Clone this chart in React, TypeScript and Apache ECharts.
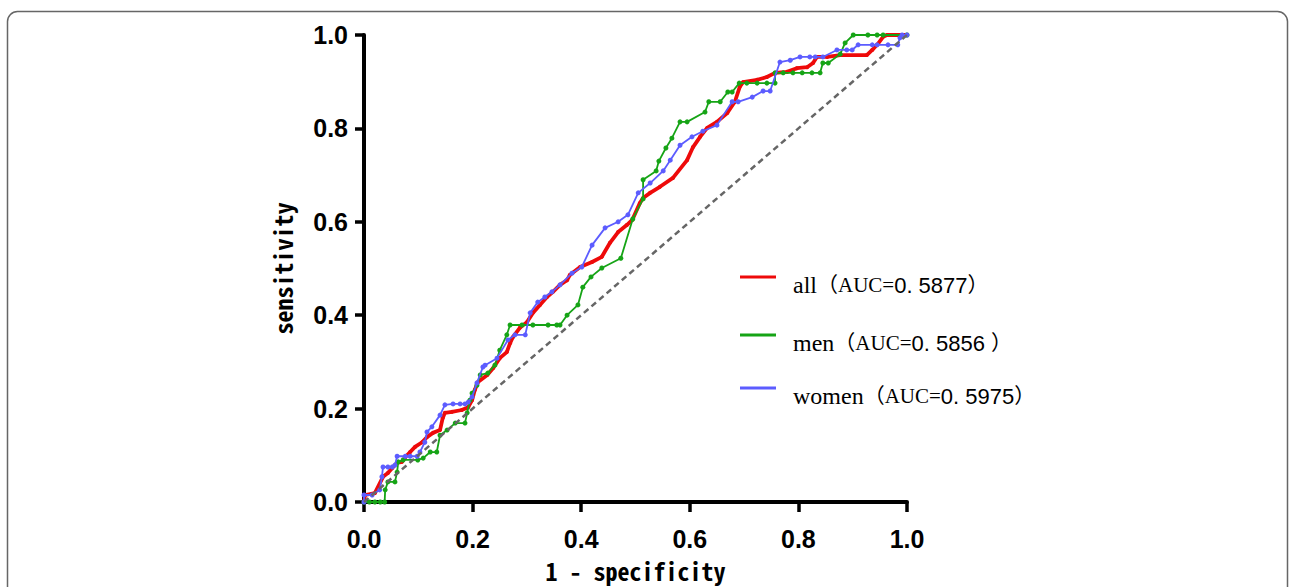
import React, { useEffect, useRef } from "react";
import * as echarts from "echarts";

const seriesNames = ["all", "men", "women"];
const aucLabels = ["0. 5877", "0. 5856 ", "0. 5975"];
const seriesColors = ["#ee0a0a", "#16a416", "#5c5cff"];
const tickValues = [0, 0.2, 0.4, 0.6, 0.8, 1.0];

const allCurve = [
  [0, 0], [0.002, 0.015], [0.02, 0.019], [0.035, 0.054], [0.044, 0.062], [0.052, 0.073],
  [0.061, 0.084], [0.07, 0.086], [0.076, 0.096], [0.085, 0.107], [0.094, 0.118], [0.107, 0.128],
  [0.116, 0.139], [0.127, 0.148], [0.14, 0.154], [0.145, 0.18], [0.149, 0.191], [0.162, 0.193],
  [0.18, 0.197], [0.192, 0.203], [0.199, 0.218], [0.204, 0.24], [0.21, 0.257], [0.227, 0.272],
  [0.238, 0.287], [0.25, 0.308], [0.263, 0.321], [0.269, 0.34], [0.274, 0.353], [0.287, 0.373],
  [0.3, 0.385], [0.311, 0.405], [0.324, 0.422], [0.337, 0.439], [0.348, 0.45], [0.361, 0.465],
  [0.374, 0.475], [0.379, 0.486], [0.398, 0.503], [0.42, 0.514], [0.438, 0.525], [0.453, 0.555],
  [0.468, 0.578], [0.484, 0.593], [0.494, 0.604], [0.508, 0.64], [0.514, 0.651], [0.527, 0.662],
  [0.545, 0.675], [0.569, 0.694], [0.595, 0.732], [0.606, 0.76], [0.619, 0.782], [0.632, 0.801],
  [0.65, 0.814], [0.669, 0.833], [0.683, 0.857], [0.692, 0.889], [0.698, 0.899], [0.724, 0.904],
  [0.742, 0.91], [0.757, 0.919], [0.779, 0.921], [0.797, 0.929], [0.816, 0.931], [0.827, 0.94],
  [0.834, 0.953], [0.853, 0.953], [0.877, 0.957], [0.926, 0.957], [0.936, 0.968], [0.945, 0.979],
  [0.956, 0.996], [0.963, 1.0], [1.0, 1.0],
];

const menCurve = [
  [0, 0], [0.01, 0], [0.02, 0], [0.03, 0], [0.038, 0], [0.039, 0.026], [0.044, 0.043],
  [0.057, 0.043], [0.061, 0.064], [0.063, 0.086], [0.072, 0.09], [0.099, 0.09], [0.109, 0.094],
  [0.122, 0.107], [0.134, 0.107], [0.14, 0.143], [0.153, 0.154], [0.168, 0.169], [0.186, 0.169],
  [0.19, 0.191], [0.195, 0.218], [0.199, 0.233], [0.208, 0.25], [0.214, 0.272], [0.228, 0.276],
  [0.241, 0.293], [0.25, 0.325], [0.263, 0.358], [0.269, 0.379], [0.291, 0.379], [0.311, 0.379],
  [0.339, 0.379], [0.355, 0.379], [0.361, 0.379], [0.374, 0.4], [0.394, 0.422], [0.403, 0.46],
  [0.418, 0.482], [0.438, 0.501], [0.473, 0.522], [0.495, 0.606], [0.514, 0.649], [0.514, 0.69],
  [0.538, 0.709], [0.543, 0.73], [0.556, 0.758], [0.567, 0.779], [0.582, 0.814], [0.595, 0.814],
  [0.628, 0.835], [0.635, 0.857], [0.656, 0.857], [0.67, 0.878], [0.678, 0.878], [0.691, 0.897],
  [0.705, 0.897], [0.724, 0.897], [0.742, 0.897], [0.757, 0.897], [0.757, 0.919], [0.772, 0.919],
  [0.79, 0.919], [0.807, 0.919], [0.825, 0.919], [0.84, 0.919], [0.845, 0.94], [0.855, 0.94],
  [0.877, 0.959], [0.886, 0.983], [0.901, 1], [0.928, 1], [0.945, 1], [0.956, 1], [1, 1],
];

const womenCurve = [
  [0, 0], [0, 0.015], [0.015, 0.015], [0.029, 0.026], [0.033, 0.054], [0.035, 0.075],
  [0.044, 0.075], [0.052, 0.075], [0.057, 0.079], [0.061, 0.098], [0.076, 0.098], [0.085, 0.098],
  [0.098, 0.098], [0.103, 0.107], [0.112, 0.128], [0.116, 0.15], [0.125, 0.161], [0.14, 0.186],
  [0.149, 0.208], [0.164, 0.21], [0.177, 0.21], [0.186, 0.21], [0.192, 0.214], [0.199, 0.225],
  [0.208, 0.255], [0.219, 0.289], [0.223, 0.293], [0.245, 0.308], [0.265, 0.347], [0.278, 0.358],
  [0.297, 0.358], [0.306, 0.405], [0.32, 0.428], [0.333, 0.439], [0.346, 0.45], [0.361, 0.465],
  [0.383, 0.49], [0.401, 0.503], [0.42, 0.55], [0.444, 0.587], [0.468, 0.6], [0.486, 0.615],
  [0.505, 0.662], [0.527, 0.683], [0.551, 0.709], [0.564, 0.732], [0.582, 0.764], [0.604, 0.782],
  [0.624, 0.794], [0.65, 0.807], [0.678, 0.857], [0.689, 0.857], [0.715, 0.867], [0.735, 0.88],
  [0.748, 0.88], [0.766, 0.942], [0.785, 0.946], [0.803, 0.953], [0.821, 0.953], [0.831, 0.953],
  [0.845, 0.953], [0.871, 0.968], [0.889, 0.968], [0.899, 0.968], [0.91, 0.979], [0.936, 0.979],
  [0.945, 0.979], [0.965, 0.979], [0.983, 0.979], [0.987, 0.994], [0.991, 1], [1, 1],
];

const diagonal = [[0, 0], [1, 1]];

const legendCenters = [276, 334, 387];

export default function App() {
  const ref = useRef<HTMLDivElement>(null);
  useEffect(() => {
    if (!ref.current) return;
    const chart = echarts.init(ref.current, null, { renderer: "svg" });
    const curves = [allCurve, menCurve, womenCurve];
    const axisFont = {
      fontFamily: "'Liberation Sans', Arial, sans-serif",
      fontWeight: "bold" as const,
      fontSize: 25,
      color: "#000",
    };
    const titleFont = {
      fontFamily: "'Noto Sans Mono CJK SC', 'DejaVu Sans Mono', monospace",
      fontWeight: "bold" as const,
      fontSize: 24,
      color: "#000",
    };
    const option: any = {
      animation: false,
      backgroundColor: "#fff",
      graphic: [
        {
          type: "rect",
          shape: { x: 7.5, y: 11.5, width: 1280, height: 640, r: 10 },
          style: { fill: "none", stroke: "#666", lineWidth: 1.5 },
          silent: true,
        },
      ],
      grid: {
        left: 364,
        top: 35,
        width: 543,
        height: 467,
        containLabel: false,
        outerBoundsMode: "none",
      },
      xAxis: {
        type: "value",
        min: 0,
        max: 1,
        interval: 0.2,
        name: "1 - specificity",
        nameLocation: "middle",
        nameGap: 56,
        nameTextStyle: titleFont,
        axisLine: { show: true, onZero: false, lineStyle: { color: "#000", width: 4 } },
        axisTick: { show: true, length: 10, lineStyle: { color: "#000", width: 3.5 } },
        axisLabel: { ...axisFont, margin: 24, formatter: (v: number) => v.toFixed(1) },
        splitLine: { show: false },
      },
      yAxis: {
        type: "value",
        min: 0,
        max: 1,
        interval: 0.2,
        name: "sensitivity",
        nameLocation: "middle",
        nameGap: 70,
        nameTextStyle: titleFont,
        axisLine: { show: true, onZero: false, lineStyle: { color: "#000", width: 4 } },
        axisTick: { show: true, length: 9, lineStyle: { color: "#000", width: 3.5 } },
        axisLabel: { ...axisFont, margin: 16, formatter: (v: number) => v.toFixed(1) },
        splitLine: { show: false },
      },
      legend: seriesNames.map((n, i) => ({
        data: [n],
        orient: "vertical",
        left: 740,
        top: legendCenters[i] - 3,
        padding: 0,
        icon: "rect",
        itemWidth: 36,
        itemHeight: 3,
        formatter: (name: string) =>
          `{n|${name}}{p|（AUC=}{v|${aucLabels[seriesNames.indexOf(name)]}}{p|）}`,
        textStyle: {
          padding: [16, 0, 0, 12],
          rich: {
            n: { fontFamily: "'Liberation Serif', 'Times New Roman', serif", fontSize: 24, color: "#000" },
            p: { fontFamily: "'Liberation Serif', 'Noto Sans CJK SC', serif", fontSize: 21, color: "#000" },
            v: { fontFamily: "'Liberation Sans', Arial, sans-serif", fontSize: 22, color: "#000" },
          },
        },
      })),
      series: [
        ...seriesNames.map((n, i) => ({
          name: n,
          type: "line",
          data: curves[i],
          symbol: "circle",
          symbolSize: i === 0 ? 4 : 5,
          showSymbol: true,
          color: seriesColors[i],
          lineStyle: { color: seriesColors[i], width: i === 0 ? 3.8 : 1.8 },
          itemStyle: { color: seriesColors[i] },
          z: 2 + i,
        })),
        {
          name: "reference",
          type: "line",
          data: diagonal,
          symbol: "none",
          lineStyle: { color: "#666", width: 2.5, type: [6, 4] },
          z: 6,
        },
      ],
    };
    chart.setOption(option);
    return () => chart.dispose();
  }, []);
  return (
    <div
      ref={ref}
      style={{ position: "fixed", left: 0, top: 0, width: 1292, height: 587 }}
    />
  );
}
